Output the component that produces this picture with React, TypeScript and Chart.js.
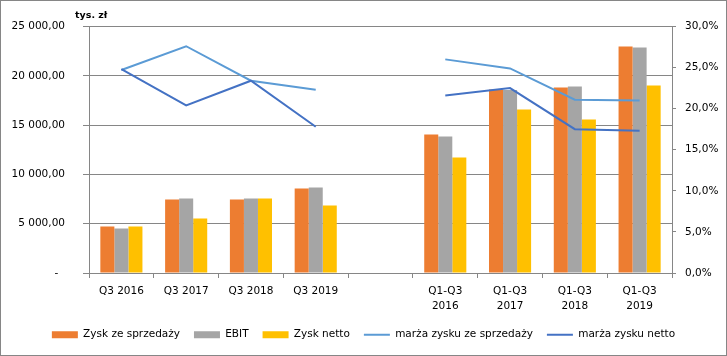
import React, { useEffect, useRef } from 'react';
import { Chart, registerables } from 'chart.js';

Chart.register(...registerables);

// ---- data ----
const categories: (string | string[])[] = [
  'Q3 2016',
  'Q3 2017',
  'Q3 2018',
  'Q3 2019',
  '',
  ['Q1-Q3', '2016'],
  ['Q1-Q3', '2017'],
  ['Q1-Q3', '2018'],
  ['Q1-Q3', '2019'],
];

const zyskSprzedazy = [4720, 7450, 7450, 8570, null, 14050, 18600, 18810, 22970];
const ebit = [4510, 7560, 7560, 8670, null, 13840, 18560, 18920, 22870];
const zyskNetto = [4720, 5530, 7560, 6850, null, 11710, 16580, 15570, 19020];
const marzaSprzedazy = [24.7, 27.6, 23.4, 22.3, null, 26.0, 24.9, 21.1, 21.0];
const marzaNetto = [24.8, 20.4, 23.4, 17.8, null, 21.6, 22.5, 17.5, 17.3];

const seriesNames = [
  'Zysk ze sprzedaży',
  'EBIT',
  'Zysk netto',
  'marża zysku ze sprzedaży',
  'marża zysku netto',
];
const unitLabel = 'tys. zł';

const leftMax = 25000;
const leftStep = 5000;
const rightMax = 30;
const rightStep = 5;

// ---- styles ----
const FONT = '"DejaVu Sans", "Liberation Sans", sans-serif';
const GRID = '#868686';
const C_ORANGE = '#ED7D31';
const C_GRAY = '#A5A5A5';
const C_YELLOW = '#FFC000';
const C_LIGHT = '#5B9BD5';
const C_DARK = '#4472C4';

function fmtLeft(v: number): string {
  if (v === 0) return '-  ';
  const s = Math.round(v)
    .toString()
    .replace(/\B(?=(\d{3})+(?!\d))/g, ' ');
  return s + ',00';
}

function fmtRight(v: number): string {
  return v.toFixed(1).replace('.', ',') + '%';
}

const unitPlugin = {
  id: 'unitLabel',
  afterDraw(chart: any) {
    const { ctx, chartArea } = chart;
    ctx.save();
    ctx.font = 'bold 9.5px ' + FONT;
    ctx.fillStyle = '#000';
    ctx.textAlign = 'left';
    ctx.textBaseline = 'middle';
    ctx.fillText(unitLabel, chartArea.left - 14, chartArea.top - 10.5);
    ctx.restore();
  },
};

export default function App() {
  const ref = useRef<HTMLCanvasElement>(null);

  useEffect(() => {
    if (!ref.current) return;
    Chart.defaults.font.family = FONT;
    Chart.defaults.font.size = 10.5;
    Chart.defaults.color = '#000';

    const chart = new Chart(ref.current, {
      type: 'bar',
      data: {
        labels: categories as any,
        datasets: [
          {
            type: 'bar',
            label: seriesNames[0],
            data: zyskSprzedazy as any,
            backgroundColor: C_ORANGE,
            borderWidth: 0,
            yAxisID: 'y',
            order: 3,
            pointStyle: 'rect',
          },
          {
            type: 'bar',
            label: seriesNames[1],
            data: ebit as any,
            backgroundColor: C_GRAY,
            borderWidth: 0,
            yAxisID: 'y',
            order: 3,
            pointStyle: 'rect',
          },
          {
            type: 'bar',
            label: seriesNames[2],
            data: zyskNetto as any,
            backgroundColor: C_YELLOW,
            borderWidth: 0,
            yAxisID: 'y',
            order: 3,
            pointStyle: 'rect',
          },
          {
            type: 'line',
            label: seriesNames[3],
            data: marzaSprzedazy as any,
            borderColor: C_LIGHT,
            backgroundColor: C_LIGHT,
            borderWidth: 2,
            pointRadius: 0,
            pointStyle: 'line',
            tension: 0,
            spanGaps: false,
            yAxisID: 'y1',
            order: 1,
          },
          {
            type: 'line',
            label: seriesNames[4],
            data: marzaNetto as any,
            borderColor: C_DARK,
            backgroundColor: C_DARK,
            borderWidth: 2,
            pointRadius: 0,
            pointStyle: 'line',
            tension: 0,
            spanGaps: false,
            yAxisID: 'y1',
            order: 0,
          },
        ] as any,
      },
      options: {
        animation: false,
        responsive: true,
        maintainAspectRatio: false,
        devicePixelRatio: 1,
        datasets: {
          bar: { categoryPercentage: 0.65, barPercentage: 1 },
        } as any,
        layout: { padding: { left: 0, right: 0, top: 19.5, bottom: 5 } },
        plugins: {
          tooltip: { enabled: false },
          title: { display: false },
          legend: {
            position: 'bottom',
            labels: {
              usePointStyle: true,
              pointStyleWidth: 26,
              boxHeight: 7,
              padding: 14,
              color: '#000',
              font: { size: 10.5, family: FONT },
              sort: (a: any, b: any) => a.datasetIndex - b.datasetIndex,
            },
          },
        },
        scales: {
          x: {
            offset: true,
            grid: {
              offset: true,
              drawOnChartArea: false,
              drawTicks: true,
              tickLength: 5,
              color: GRID,
            },
            border: { display: true, color: GRID },
            ticks: {
              autoSkip: false,
              maxRotation: 0,
              minRotation: 0,
              padding: 5.5,
              color: '#000',
              font: { size: 10.5, family: FONT, lineHeight: 15 / 10.5 },
            },
            afterFit: (s: any) => {
              s.height = 42.5;
            },
          },
          y: {
            position: 'left',
            min: 0,
            max: leftMax,
            grid: {
              color: GRID,
              drawTicks: true,
              tickLength: 6,
            },
            border: { display: true, color: GRID },
            ticks: {
              stepSize: leftStep,
              padding: 18,
              color: '#000',
              font: { size: 10.5, family: FONT, lineHeight: 15 / 10.5 },
              callback: (v: any) => fmtLeft(Number(v)),
            },
            afterFit: (s: any) => {
              s.width = 88;
            },
          },
          y1: {
            position: 'right',
            min: 0,
            max: rightMax,
            grid: {
              drawOnChartArea: false,
              drawTicks: true,
              tickLength: 4,
              color: GRID,
            },
            border: { display: true, color: GRID },
            ticks: {
              stepSize: rightStep,
              padding: 9,
              color: '#000',
              font: { size: 10.5, family: FONT, lineHeight: 15 / 10.5 },
              callback: (v: any) => fmtRight(Number(v)),
            },
            afterFit: (s: any) => {
              s.width = 54;
            },
          },
        },
      } as any,
      plugins: [unitPlugin],
    });
    return () => chart.destroy();
  }, []);

  return (
    <div
      style={{
        position: 'fixed',
        left: 0,
        top: 0,
        width: 727,
        height: 356,
        boxSizing: 'border-box',
        border: '1px solid #868686',
        background: '#fff',
      }}
    >
      <div style={{ position: 'relative', width: 725, height: 354 }}>
        <canvas ref={ref} />
      </div>
    </div>
  );
}
